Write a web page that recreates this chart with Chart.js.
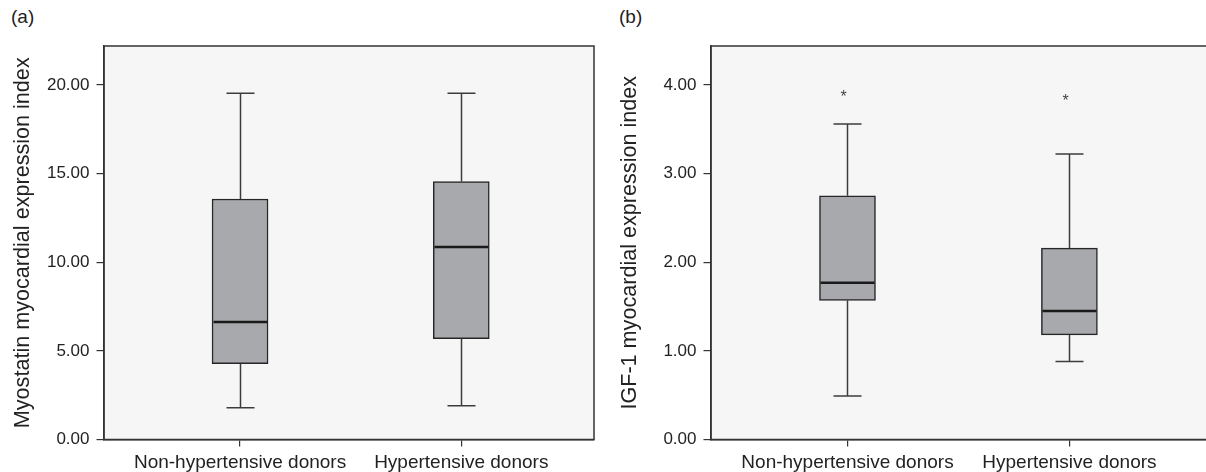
<!DOCTYPE html>
<html><head><meta charset="utf-8">
<script src="https://cdn.jsdelivr.net/npm/chart.js@4/dist/chart.umd.min.js"></script>
<style>
html,body{margin:0;padding:0;background:#fff;overflow:hidden;width:1206px;height:472px;}
.panel{position:absolute;top:0;height:472px;}
.tag{position:absolute;top:6px;font:19px "Liberation Sans",Arial,sans-serif;color:#222;}
</style></head><body>
<div class="tag" style="left:11px">(a)</div>
<div class="tag" style="left:619px">(b)</div>
<div class="panel" style="left:0;width:603px"><canvas id="ca"></canvas></div>
<div class="panel" style="left:607px;width:605px"><canvas id="cb"></canvas></div>
<script>
// ---- data ----
const categories = ['Non-hypertensive donors', 'Hypertensive donors'];
const categoryPositions = [1, 2];

// Panel (a): Myostatin
const myoMin    = [1.79, 1.91];
const myoQ1     = [4.28, 5.69];
const myoMedian = [6.63, 10.86];
const myoQ3     = [13.57, 14.55];
const myoMax    = [19.54, 19.54];
const myoOutliers = [[], []];
const myoTicks = [0, 5, 10, 15, 20];
const myoTickLabels = ['0.00', '5.00', '10.00', '15.00', '20.00'];
const myoAxisMax = 22.2;

// Panel (b): IGF-1
const igfMin    = [0.49, 0.88];
const igfQ1     = [1.57, 1.18];
const igfMedian = [1.77, 1.45];
const igfQ3     = [2.75, 2.16];
const igfMax    = [3.56, 3.22];
const igfOutliers = [[3.91], [3.86]];
const igfTicks = [0, 1, 2, 3, 4];
const igfTickLabels = ['0.00', '1.00', '2.00', '3.00', '4.00'];
const igfAxisMax = 4.44;

const FONT = '"Liberation Sans", Arial, sans-serif';
const AXIS_COLOR = '#333';

const boxExtras = {
  id: 'boxExtras',
  beforeDraw(chart) {
    const {ctx, chartArea: a} = chart;
    ctx.save();
    ctx.fillStyle = '#f6f6f6';
    ctx.fillRect(a.left, a.top, a.right - a.left, a.bottom - a.top);
    ctx.restore();
  },
  afterDatasetsDraw(chart) {
    const o = chart.options.plugins.boxExtras;
    const {ctx, scales: {x, y}, chartArea: a} = chart;
    ctx.save();
    for (let i = 0; i < o.pos.length; i++) {
      const px = Math.round(x.getPixelForValue(o.pos[i])) + 0.5;
      ctx.strokeStyle = '#3c3c3c';
      ctx.lineWidth = 1.5;
      ctx.beginPath();
      ctx.moveTo(px, y.getPixelForValue(o.q3[i]));
      ctx.lineTo(px, y.getPixelForValue(o.max[i]));
      ctx.moveTo(px, y.getPixelForValue(o.q1[i]));
      ctx.lineTo(px, y.getPixelForValue(o.min[i]));
      ctx.moveTo(px - o.capHalf, y.getPixelForValue(o.max[i]));
      ctx.lineTo(px + o.capHalf, y.getPixelForValue(o.max[i]));
      ctx.moveTo(px - o.capHalf, y.getPixelForValue(o.min[i]));
      ctx.lineTo(px + o.capHalf, y.getPixelForValue(o.min[i]));
      ctx.stroke();
      // median
      ctx.strokeStyle = '#1a1a1a';
      ctx.lineWidth = 2.5;
      ctx.beginPath();
      const my = y.getPixelForValue(o.median[i]);
      ctx.moveTo(px - o.boxHalf + 1, my);
      ctx.lineTo(px + o.boxHalf - 1, my);
      ctx.stroke();
      // outliers
      ctx.fillStyle = '#444';
      ctx.font = '16px ' + FONT;
      ctx.textAlign = 'center';
      ctx.textBaseline = 'alphabetic';
      for (const v of o.outliers[i]) {
        ctx.fillText('*', px - 4, y.getPixelForValue(v) + 9);
      }
    }
    // frame
    ctx.strokeStyle = AXIS_COLOR;
    ctx.lineWidth = 1.5;
    ctx.strokeRect(a.left, a.top, a.right - a.left, a.bottom - a.top);
    ctx.restore();
  }
};

function makeChart(id, d) {
  return new Chart(document.getElementById(id), {
    type: 'bar',
    data: {
      datasets: [{
        data: d.pos.map((p, i) => ({x: p, y: [d.q1[i], d.q3[i]]})),
        backgroundColor: '#a8a9ad',
        borderColor: '#262626',
        borderWidth: 1.5,
        borderSkipped: false,
        barThickness: 56
      }]
    },
    plugins: [boxExtras],
    options: {
      responsive: true,
      maintainAspectRatio: false,
      animation: false,
      layout: {padding: {top: 46, left: 0, right: d.padRight, bottom: 0}},
      plugins: {
        legend: {display: false},
        tooltip: {enabled: false},
        boxExtras: {
          pos: d.pos, min: d.min, q1: d.q1, median: d.median, q3: d.q3, max: d.max,
          outliers: d.outliers, capHalf: 14, boxHalf: 28
        }
      },
      scales: {
        x: {
          type: 'linear',
          min: 0.385,
          max: d.xMax,
          offset: false,
          grid: {offset: false, drawOnChartArea: false, drawTicks: true, tickLength: 7, color: AXIS_COLOR, lineWidth: 1.2},
          border: {display: true, color: AXIS_COLOR, width: 1.5},
          afterBuildTicks: s => { s.ticks = d.pos.map(v => ({value: v})); },
          afterFit: s => { s.height = 32.5; },
          ticks: {
            autoSkip: false, maxRotation: 0, padding: 5,
            color: '#222', font: {family: FONT, size: 19},
            callback: (v, i) => categories[i]
          }
        },
        y: {
          min: 0,
          max: d.yMax,
          grid: {drawOnChartArea: false, drawTicks: true, tickLength: 7.5, color: AXIS_COLOR, lineWidth: 1.2},
          border: {display: true, color: AXIS_COLOR, width: 1.5},
          afterBuildTicks: s => { s.ticks = d.ticks.map(v => ({value: v})); },
          afterFit: s => { s.width = 104; },
          ticks: {
            padding: 7, color: '#222', font: {family: FONT, size: 17},
            callback: (v, i) => d.tickLabels[i]
          },
          title: {
            display: true, text: d.title, color: '#222',
            font: {family: FONT, size: 21.6}, padding: {top: 10, bottom: 0}
          }
        }
      }
    }
  });
}

makeChart('ca', {
  pos: categoryPositions, min: myoMin, q1: myoQ1, median: myoMedian, q3: myoQ3, max: myoMax,
  outliers: myoOutliers, ticks: myoTicks, tickLabels: myoTickLabels, yMax: myoAxisMax,
  title: 'Myostatin myocardial expression index', xMax: 2.6, padRight: 9
});
makeChart('cb', {
  pos: categoryPositions, min: igfMin, q1: igfQ1, median: igfMedian, q3: igfQ3, max: igfMax,
  outliers: igfOutliers, ticks: igfTicks, tickLabels: igfTickLabels, yMax: igfAxisMax,
  title: 'IGF-1 myocardial expression index', xMax: 2.62, padRight: 5
});
</script>
</body></html>
